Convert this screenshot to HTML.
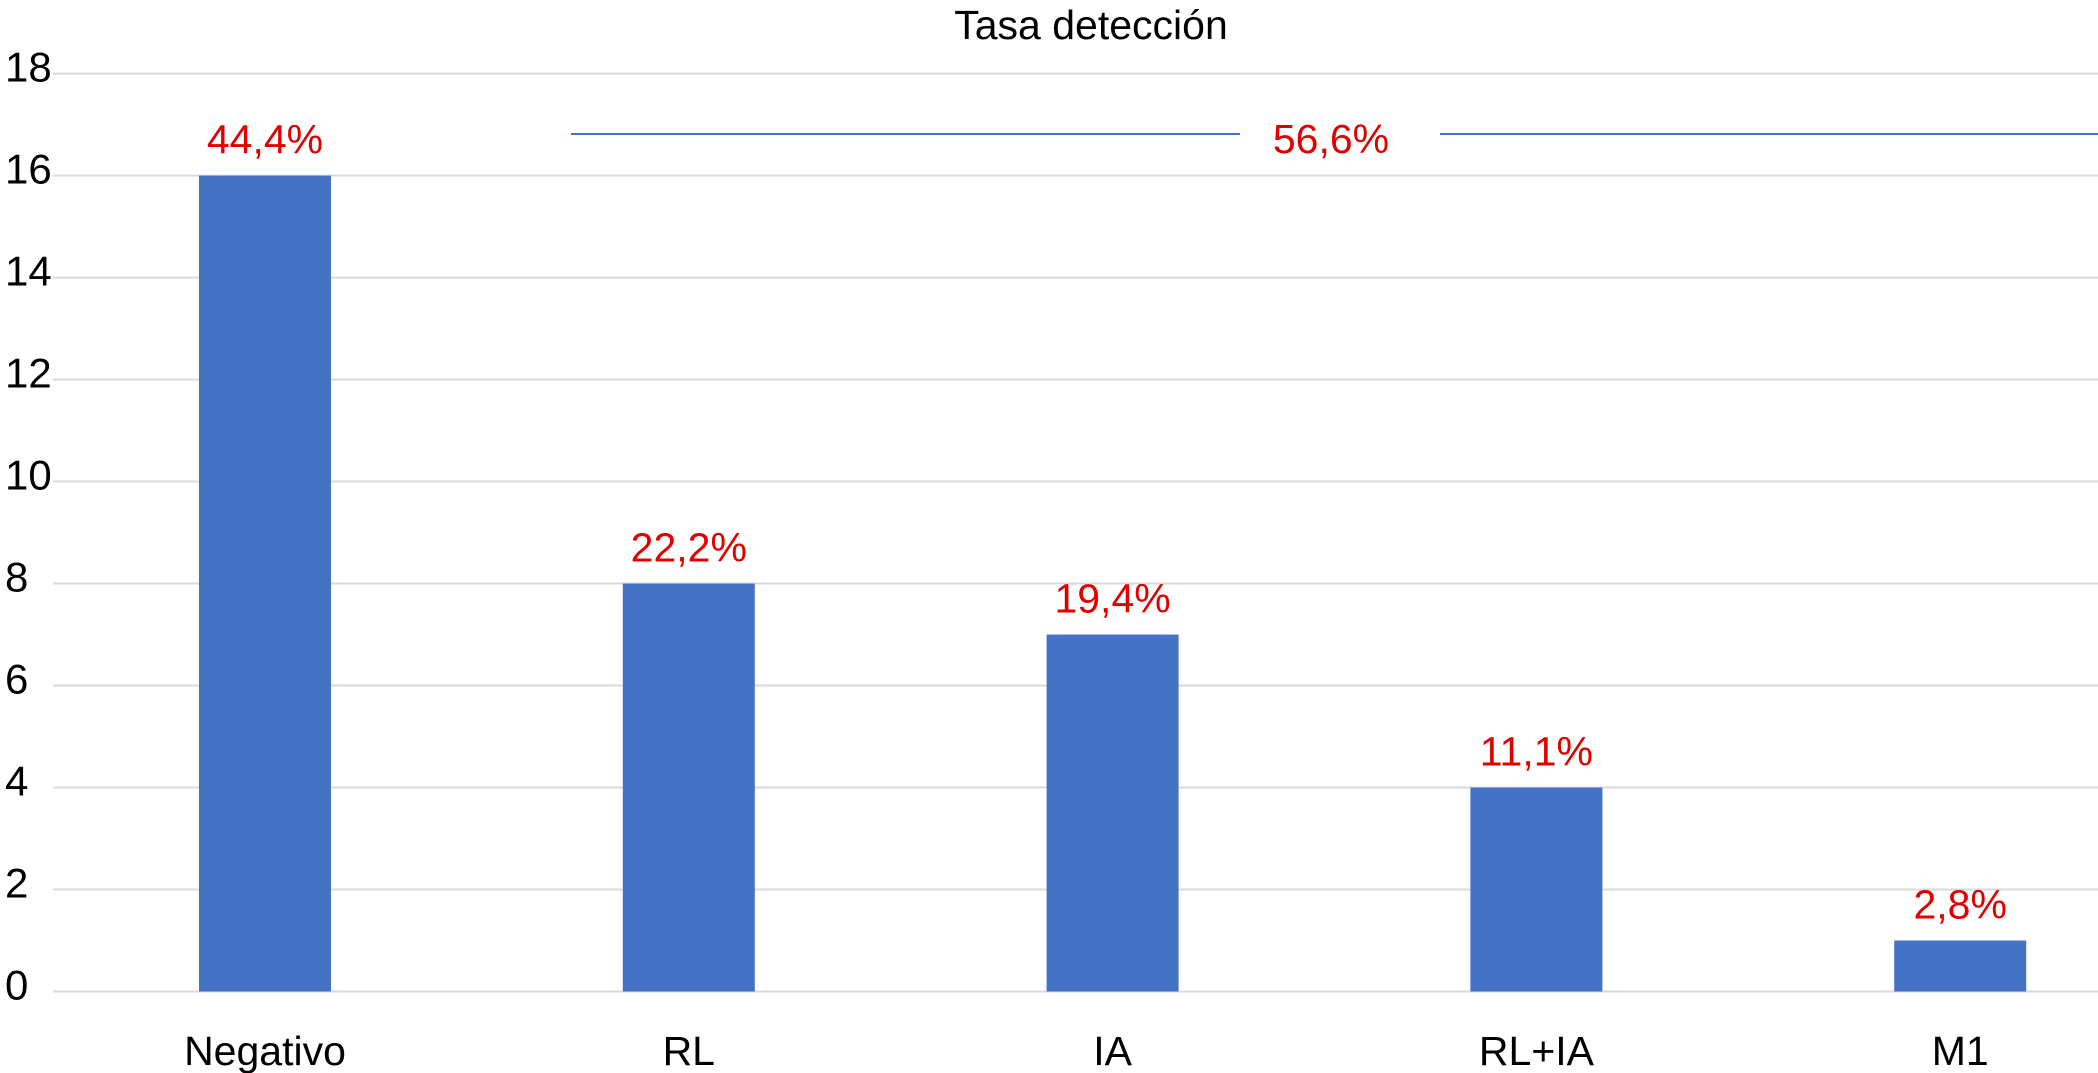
<!DOCTYPE html>
<html><head><meta charset="utf-8"><style>
html,body{margin:0;padding:0;background:#fff;}
svg{display:block;font-family:"Liberation Sans",Arial,sans-serif;}
</style></head><body>
<svg id="chart" width="2098" height="1073" viewBox="0 0 2098 1073" xmlns="http://www.w3.org/2000/svg">
<text x="1091" y="39" font-size="41" text-anchor="middle" fill="#000">Tasa detección</text>
<g id="grid"></g><g id="bars"></g><g id="labels"></g>
<line x1="571" y1="134" x2="1240" y2="134" stroke="#4472c4" stroke-width="2"/>
<line x1="1440" y1="134" x2="2098" y2="134" stroke="#4472c4" stroke-width="2"/>
<text x="1331" y="153" font-size="41" text-anchor="middle" fill="#e00000">56,6%</text>
</svg>
<script>
const categories=["Negativo","RL","IA","RL+IA","M1"];
const values=[16,8,7,4,1];
const pctLabels=["44,4%","22,2%","19,4%","11,1%","2,8%"];
const yTicks=[0,2,4,6,8,10,12,14,16,18];
const NS="http://www.w3.org/2000/svg";
const y0=991.5,yTop=73.6,yMax=18;
function y(v){return y0-(y0-yTop)*v/yMax;}
function xc(i){return 265+i*423.8;}
const bw=132;
function mk(tag,attrs,parent,txt){const e=document.createElementNS(NS,tag);for(const k in attrs)e.setAttribute(k,attrs[k]);if(txt!==undefined)e.textContent=txt;document.getElementById(parent).appendChild(e);return e;}
yTicks.forEach(t=>{
 const l=mk("line",{x1:53,x2:2098,y1:y(t),y2:y(t),stroke:"#d9d9d9","stroke-width":2},"grid");
 
 
 const tx=mk("text",{x:5,y:y(t)+8,"font-size":42,fill:"#000"},"grid",String(t));
 
 
});
categories.forEach((c,i)=>{
 const r=mk("rect",{x:xc(i)-bw/2,y:y(values[i]),width:bw,height:y0-y(values[i]),fill:"#4472c4"},"bars");
 
 
 const p=mk("text",{x:xc(i),y:y(values[i])-22,"font-size":41,fill:"#e00000","text-anchor":"middle"},"labels",pctLabels[i]);
 
 
 const cl=mk("text",{x:xc(i),y:1065,"font-size":41,fill:"#000","text-anchor":"middle"},"labels",c);
 
 
});
</script>
</body></html>
